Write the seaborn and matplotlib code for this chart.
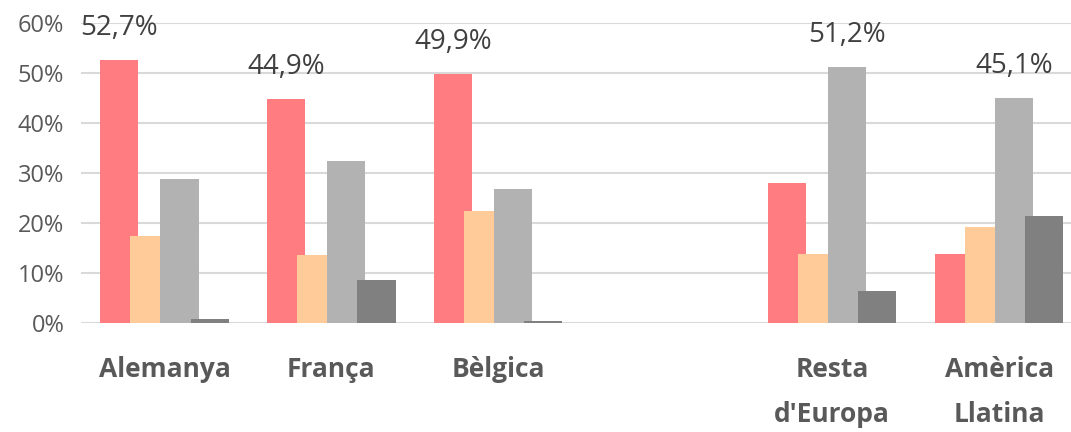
import matplotlib
matplotlib.use("Agg")
import matplotlib.pyplot as plt
import seaborn as sns
import pandas as pd
import numpy as np

categories = ["Alemanya", "França", "Bèlgica", "", "Resta\nd'Europa", "Amèrica\nLlatina"]
series_names = ["S1", "S2", "S3", "S4"]
s1 = [52.7, 44.9, 49.9, None, 28.0, 13.8]
s2 = [17.4, 13.6, 22.4, None, 13.8, 19.2]
s3 = [28.8, 32.4, 26.9, None, 51.2, 45.1]
s4 = [0.8, 8.6, 0.4, None, 6.5, 21.5]
colors = ["#FF7C80", "#FFCC99", "#B2B2B2", "#808080"]

rows = []
for name, vals in zip(series_names, [s1, s2, s3, s4]):
    for c, v in zip(categories, vals):
        if v is not None:
            rows.append({"cat": c, "series": name, "value": v})
df = pd.DataFrame(rows)

sns.set_theme(style="white")
plt.rcParams["font.family"] = ["Open Sans", "DejaVu Sans"]

fig = plt.figure(figsize=(10.71, 4.32), dpi=100)
ax = fig.add_axes([81 / 1071, (432 - 323) / 432, 1 - 81 / 1071, 300 / 432])

sns.barplot(data=df, x="cat", y="value", hue="series", order=categories,
            hue_order=series_names, palette=colors, width=0.72, dodge=True,
            saturation=1, ax=ax, legend=False, errorbar=None, linewidth=0)

# widen bars so neighbours overlap (Excel-style overlap)
new_w = 0.228
for p in ax.patches:
    cx = p.get_x() + p.get_width() / 2
    p.set_width(new_w)
    p.set_x(cx - new_w / 2)

ax.set_xlim(-0.5, 5.43)
ax.set_ylim(0, 60)
ax.set_yticks(range(0, 61, 10))
ax.set_yticklabels([f"{t}%" for t in range(0, 61, 10)], fontsize=17, color="#595959")
ax.yaxis.grid(True, color="#D9D9D9", linewidth=1.5)
ax.set_axisbelow(True)
for s in ax.spines.values():
    s.set_visible(False)
ax.tick_params(axis="y", length=0, pad=12)
ax.tick_params(axis="x", length=0, pad=24)
ax.set_xticks(range(len(categories)))
ax.set_xticklabels(categories, fontsize=19, fontweight="bold", color="#595959",
                   linespacing=1.85, va="top")
ax.set_xlabel("")
ax.set_ylabel("")

# label the tallest bar of each group
groups = {}
for p in ax.patches:
    if p.get_height() <= 0:
        continue
    idx = int(round(p.get_x() + p.get_width() / 2))
    groups.setdefault(idx, []).append(p)
for idx, group in groups.items():
    best = max(group, key=lambda p: p.get_height())
    h = best.get_height()
    ax.annotate(f"{h:.1f}%".replace(".", ","),
                xy=(best.get_x() + best.get_width() / 2, h),
                xytext=(0, 23), textcoords="offset points",
                ha="center", va="center", fontsize=20, color="#404040",
                annotation_clip=False)

fig.savefig("out.png", dpi=100)
